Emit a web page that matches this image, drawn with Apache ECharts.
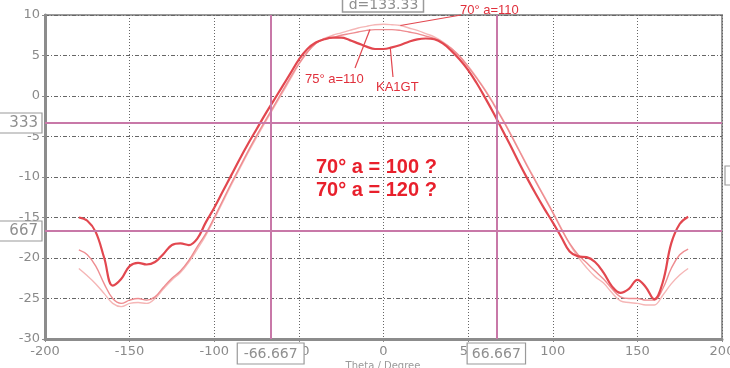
<!DOCTYPE html>
<html><head><meta charset="utf-8">
<script src="https://cdn.jsdelivr.net/npm/echarts@6/dist/echarts.min.js"></script>
<style>html,body{margin:0;padding:0;background:#fff;overflow:hidden}#c{width:730px;height:368px}</style>
</head><body><div id="c"></div>
<script>
// ---- data ----
const theta = [-180,-175,-170,-165,-160,-155,-150,-145,-140,-135,-130,-125,-120,-115,-110,-105,-100,-95,-90,-85,-80,-75,-70,-65,-60,-55,-50,-45,-40,-35,-30,-25,-20,-15,-10,-5,0,5,10,15,20,25,30,35,40,45,50,55,60,65,70,75,80,85,90,95,100,105,110,115,120,125,130,135,140,145,150,155,160,165,170,175,180];
const ka1gt = [-15.0,-15.4,-16.8,-20.0,-23.4,-22.6,-21.0,-20.6,-20.8,-20.5,-19.5,-18.4,-18.2,-18.4,-17.6,-15.6,-13.8,-11.8,-9.8,-7.8,-5.9,-4.1,-2.3,-0.6,1.1,2.8,4.5,5.8,6.6,7.0,7.2,7.2,6.9,6.5,6.1,5.8,5.8,6.0,6.3,6.7,7.0,7.1,7.0,6.5,5.6,4.5,3.2,1.6,-0.2,-2.1,-4.1,-6.1,-8.2,-10.2,-12.1,-13.9,-15.6,-17.4,-19.2,-19.8,-19.9,-20.5,-21.8,-23.5,-24.3,-23.8,-22.7,-23.6,-25.1,-23.0,-18.2,-15.8,-14.9];
const deg75a110 = [-19.0,-19.6,-21.0,-23.2,-25.0,-25.6,-25.2,-25.0,-25.2,-24.8,-23.6,-22.5,-21.6,-20.3,-18.6,-17.0,-15.0,-12.9,-10.8,-8.8,-6.8,-4.9,-3.1,-1.3,0.5,2.3,4.0,5.4,6.5,7.0,7.2,7.5,7.7,7.9,8.1,8.2,8.2,8.2,8.1,7.9,7.7,7.4,7.1,6.6,5.9,4.9,3.6,2.2,0.7,-1.0,-2.8,-4.7,-6.7,-8.7,-10.6,-12.5,-14.4,-16.4,-18.2,-19.6,-20.6,-21.6,-22.6,-23.8,-24.8,-25.0,-25.0,-25.2,-25.2,-23.8,-21.3,-19.6,-18.9];
const deg70a110 = [-21.3,-22.2,-23.2,-24.4,-25.6,-26.0,-25.6,-25.5,-25.6,-25.0,-23.8,-22.7,-21.8,-20.5,-18.9,-17.2,-15.2,-13.1,-11.0,-9.0,-7.0,-5.1,-3.3,-1.5,0.3,2.1,3.9,5.4,6.5,7.1,7.5,7.8,8.1,8.4,8.6,8.8,8.85,8.8,8.7,8.4,8.1,7.7,7.3,6.7,5.9,4.9,3.7,2.3,0.8,-0.9,-2.7,-4.6,-6.6,-8.6,-10.5,-12.4,-14.3,-16.3,-18.3,-19.9,-21.2,-22.3,-23.1,-24.3,-25.3,-25.5,-25.6,-25.8,-25.8,-24.6,-23.2,-22.1,-21.3];
const xTicks = [-200,-150,-100,-50,0,50,100,150,200];
const yTicks = [-30,-25,-20,-15,-10,-5,0,5,10];
const refX = [-66.667, 66.667];
const refXLabels = ['-66.667', '66.667'];
const refY = [-3.333, -16.667];
const refYLabels = ['333', '667'];
const deltaLabel = 'd=133.33';
const xAxisName = 'Theta / Degree';
const bigNotes = ['70° a = 100 ?', '70° a = 120 ?'];
// curve labels: text, and the curve point their leader line points to
const curveNotes = [
  {text: '70° a=110', at: [10, 8.7]},
  {text: '75° a=110', at: [-8, 8.2]},
  {text: 'KA1GT', at: [4, 5.95]}
];

const chart = echarts.init(document.getElementById('c'), null, {renderer: 'canvas'});
const pair = arr => theta.map((t, i) => [t, arr[i]]);
const lblFont = 'DejaVu Sans';
chart.setOption({
  animation: false,
  backgroundColor: '#fff',
  grid: {left: 45, right: 8, top: 15, bottom: 29, show: true, borderColor: '#9a9a9a', borderWidth: 2, outerBoundsMode: 'none', containLabel: false},
  xAxis: {
    type: 'value', min: xTicks[0], max: xTicks[xTicks.length - 1], interval: 50,
    axisLine: {show: true, onZero: false, lineStyle: {color: '#8c8c8c', width: 3}},
    axisTick: {show: true, length: 3, lineStyle: {color: '#8c8c8c'}},
    axisLabel: {color: '#8a8a8a', fontSize: 13, fontFamily: lblFont, margin: 6},
    splitLine: {show: true, lineStyle: {color: '#666', width: 1, type: [1, 2]}}
  },
  yAxis: {
    type: 'value', min: yTicks[0], max: yTicks[yTicks.length - 1], interval: 5,
    axisLine: {show: true, onZero: false, lineStyle: {color: '#8c8c8c', width: 3}},
    axisTick: {show: true, length: 3, lineStyle: {color: '#8c8c8c'}},
    axisLabel: {color: '#8a8a8a', fontSize: 13, fontFamily: lblFont, margin: 5},
    splitLine: {show: true, lineStyle: {color: '#666', width: 1, type: [4, 2, 1, 2]}}
  },
  series: [
    {
      type: 'line', name: 'ref', data: [], z: 1, silent: true,
      markLine: {
        silent: true, symbol: 'none', label: {show: false},
        lineStyle: {color: '#c878a8', width: 2, type: 'solid'},
        data: refX.map(v => ({xAxis: v})).concat(refY.map(v => ({yAxis: v})))
      }
    },
    {type: 'line', name: '70° a=110', data: pair(deg70a110), smooth: 0.4, showSymbol: false, z: 2,
     lineStyle: {color: '#f5b6b6', width: 1.4}},
    {type: 'line', name: '75° a=110', data: pair(deg75a110), smooth: 0.4, showSymbol: false, z: 3,
     lineStyle: {color: '#ee8c90', width: 1.4}},
    {type: 'line', name: 'KA1GT', data: pair(ka1gt), smooth: 0.4, showSymbol: false, z: 4,
     lineStyle: {color: '#e2474f', width: 2.2}}
  ]
});

const px = p => chart.convertToPixel({gridIndex: 0}, p);
const g = [];
const boxStroke = '#9a9a9a', boxText = '#8f8f8f';
// y reference boxes at left edge
refY.forEach((v, i) => {
  const y = px([0, v])[1];
  g.push({type: 'rect', z: 50, shape: {x: -20, y: y - 10, width: 62, height: 20}, style: {fill: '#fff', stroke: boxStroke, lineWidth: 1.2}});
  g.push({type: 'text', z: 51, x: 38, y: y, style: {text: refYLabels[i], fill: boxText, font: '15px "DejaVu Sans"', textAlign: 'right', textVerticalAlign: 'middle'}});
});
// x reference boxes at bottom
refX.forEach((v, i) => {
  const x = px([v, 0])[0];
  const w = refXLabels[i].length * 8.4 + 8;
  g.push({type: 'rect', z: 50, shape: {x: x - w / 2, y: 343, width: w, height: 21}, style: {fill: '#fff', stroke: boxStroke, lineWidth: 1.2}});
  g.push({type: 'text', z: 51, x: x, y: 354, style: {text: refXLabels[i], fill: boxText, font: '14px "DejaVu Sans"', textAlign: 'center', textVerticalAlign: 'middle'}});
});
// delta box at top, centred between the two vertical lines
{
  const xm = (px([refX[0], 0])[0] + px([refX[1], 0])[0]) / 2;
  g.push({type: 'rect', z: 50, shape: {x: xm - 41, y: -8, width: 81, height: 20}, style: {fill: '#fff', stroke: boxStroke, lineWidth: 1.5}});
  g.push({type: 'text', z: 51, x: xm, y: 5, style: {text: deltaLabel, fill: boxText, font: '14px "DejaVu Sans"', textAlign: 'center', textVerticalAlign: 'middle'}});
}
// partial box at right edge
g.push({type: 'rect', z: 50, shape: {x: 725, y: 166, width: 20, height: 19}, style: {fill: '#fff', stroke: boxStroke, lineWidth: 1.2}});
// x axis name
g.push({type: 'text', z: 51, x: 383, y: 366, style: {text: xAxisName, fill: '#9a9a9a', font: '10px "DejaVu Sans"', textAlign: 'center', textVerticalAlign: 'middle'}});
// curve notes with leader lines
const notePos = [[460, 10, 461, 15], [305, 79, 355, 68], [376, 87, 393, 77]];
curveNotes.forEach((n, i) => {
  const p = px(n.at);
  const [tx, ty, lx, ly] = notePos[i];
  g.push({type: 'line', z: 40, shape: {x1: p[0], y1: p[1], x2: lx, y2: ly}, style: {stroke: '#e2474f', lineWidth: 1.2}});
  g.push({type: 'text', z: 41, x: tx, y: ty, style: {text: n.text, fill: '#e0303c', font: '13px "Liberation Sans"', textAlign: 'left', textVerticalAlign: 'middle'}});
});
// big red question notes
bigNotes.forEach((t, i) => {
  g.push({type: 'text', z: 41, x: 316, y: 167 + i * 23, style: {text: t, fill: '#e8202c', font: 'bold 20px "Liberation Sans"', textAlign: 'left', textVerticalAlign: 'middle'}});
});
chart.setOption({graphic: {elements: g}});
</script>
</body></html>
